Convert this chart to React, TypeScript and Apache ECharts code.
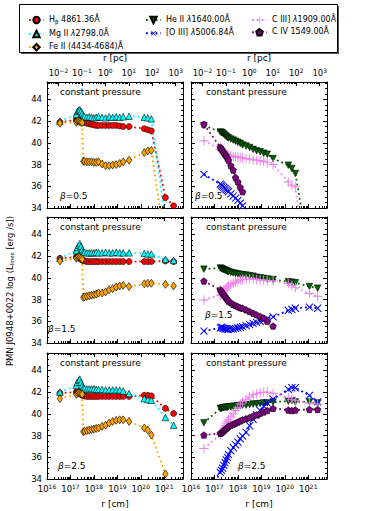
import React, { useEffect, useRef } from "react";
import * as echarts from "echarts";

// ---------------- data ----------------
// log10 of the radius (cm) of every model point (shared by all panels)
const LOG_R_CM = [16.55, 17.25, 17.3, 17.35, 17.4, 17.45, 17.5, 17.55, 17.6, 17.7, 17.8, 17.9, 18.0, 18.1, 18.2, 18.35, 18.5, 18.65, 18.8, 18.95, 19.1, 19.25, 19.5, 20.15, 20.3, 20.45, 21.05, 21.4];

const BETA_LABELS = ["0.5", "1.5", "2.5"];
const PANEL_TITLE = "constant pressure";
const X_TICKS_CM = [16, 17, 18, 19, 20, 21];
const X_TICKS_PC = [-2, -1, 0, 1, 2, 3];
const Y_TICKS = [34, 36, 38, 40, 42, 44];
const LOG_PC_IN_CM = 18.4894;
const X_MIN = 16;
const X_MAX = 21.8;
const Y_MIN = 34;
const Y_MAX = 45.6;

// beta = 0.5
const HB_05 = [41.9, 42.1, 42.2, 42.2, 42.1, 42.0, 42.0, 41.9, 41.9, 41.8, 41.75, 41.7, 41.65, 41.6, 41.6, 41.6, 41.6, 41.6, 41.6, 41.6, 41.55, 41.5, 41.5, 41.3, 41.2, 41.1, 34.95, 34.2];
const MG_05 = [42.0, 42.6, 42.9, 43.0, 43.05, 42.9, 42.7, 42.5, 42.4, 42.35, 42.4, 42.35, 42.3, 42.35, 42.4, 42.35, 42.3, 42.4, 42.35, 42.4, 42.35, 42.4, 42.45, 42.35, 42.3, 42.2, 32.9, 31.5];
const FE_05 = [41.8, 41.9, 42.0, 42.0, 41.95, 41.9, 41.85, 38.3, 38.3, 38.25, 38.25, 38.25, 38.2, 38.2, 38.25, 38.05, 37.9, 37.9, 37.95, 38.0, 38.1, 38.25, 38.4, 39.1, 39.25, 39.3, 30.5, null];
const HE_05 = [41.6, 41.0, 40.95, 40.9, 40.8, 40.7, 40.6, 40.5, 40.45, 40.35, 40.25, 40.15, 40.05, 39.95, 39.8, 39.7, 39.57, 39.4, 39.26, 39.17, 39.05, 38.95, 38.56, 37.94, 37.64, 37.18, 29.6, null];
const O3_05 = [37.1, 36.2, 36.1, 36.0, 35.9, 35.8, 35.7, 35.6, 35.5, 35.3, 35.1, 34.9, 34.7, 34.45, 34.2, 33.8, null, null, null, null, null, null, null, null, null, null, null, null];
const C3_05 = [40.2, 39.4, 39.3, 39.2, 39.1, 39.0, 38.95, 38.9, 38.85, 38.8, 38.75, 38.7, 38.7, 38.65, 38.6, 38.55, 38.5, 38.45, 38.4, 38.35, 38.3, 38.2, 38.0, 36.4, 36.1, 35.95, 26.0, null];
const C4_05 = [41.7, 39.6, 39.45, 39.3, 39.1, 38.95, 38.8, 38.6, 38.4, 37.9, 37.5, 36.8, 36.4, 35.9, 35.5, null, null, null, null, null, null, null, null, null, null, null, null, null];

// beta = 1.5
const HB_15 = [41.8, 41.9, 42.0, 41.9, 41.8, 41.7, 41.65, 41.6, 41.55, 41.5, 41.5, 41.5, 41.5, 41.5, 41.5, 41.5, 41.5, 41.5, 41.5, 41.5, 41.5, 41.5, 41.5, 41.5, 41.5, 41.5, 41.55, 41.5];
const MG_15 = [41.8, 42.5, 42.8, 43.0, 43.15, 42.9, 42.6, 42.4, 42.35, 42.3, 42.3, 42.3, 42.3, 42.35, 42.3, 42.3, 42.35, 42.3, 42.3, 42.35, 42.3, 42.3, 42.3, 42.25, 42.2, 42.2, 41.7, 41.6];
const FE_15 = [41.55, 41.8, 41.9, 41.95, 41.9, 41.8, 41.7, 38.2, 38.25, 38.3, 38.35, 38.4, 38.45, 38.5, 38.6, 38.6, 38.7, 38.9, 39.0, 39.15, 39.25, 39.3, 39.2, 39.45, 39.5, 39.5, 39.4, 39.25];
const HE_15 = [40.8, 40.9, 40.85, 40.8, 40.75, 40.7, 40.65, 40.6, 40.55, 40.5, 40.45, 40.4, 40.35, 40.3, 40.3, 40.25, 40.2, 40.15, 40.05, 40.0, 39.95, 39.9, 39.85, 39.65, 39.6, 39.55, 39.2, 39.05];
const O3_15 = [35.1, 35.4, 35.45, 35.4, 35.35, 35.3, 35.3, 35.25, 35.25, 35.3, 35.3, 35.35, 35.4, 35.45, 35.5, 35.6, 35.7, 35.8, 35.9, 36.0, 36.1, 36.25, 36.4, 37.0, 37.1, 37.2, 37.3, 37.2];
const C3_15 = [37.95, 38.4, 38.5, 38.65, 38.8, 38.95, 39.05, 39.15, 39.25, 39.4, 39.5, 39.6, 39.7, 39.8, 39.85, 39.9, 39.9, 39.9, 39.85, 39.8, 39.8, 39.75, 39.7, 39.5, 39.3, 39.1, 38.55, 38.3];
const C4_15 = [39.7, 38.9, 38.75, 38.6, 38.45, 38.3, 38.15, 38.0, 37.85, 37.7, 37.55, 37.45, 37.35, 37.25, 37.2, 37.05, 36.9, 36.75, 36.6, 36.45, 36.3, 36.0, 35.56, null, null, null, null, null];

// beta = 2.5
const HB_25 = [41.9, 42.0, 42.1, 42.0, 41.9, 41.8, 41.75, 41.7, 41.65, 41.6, 41.6, 41.6, 41.6, 41.6, 41.6, 41.6, 41.6, 41.6, 41.6, 41.6, 41.6, 41.6, 41.6, 41.7, 41.7, 41.65, 40.5, 40.03];
const MG_25 = [42.0, 42.6, 42.9, 43.1, 43.2, 42.9, 42.6, 42.4, 42.3, 42.3, 42.3, 42.3, 42.3, 42.25, 42.25, 42.25, 42.2, 42.2, 42.2, 42.2, 42.2, 42.1, 41.86, 41.4, 41.3, 41.25, 39.66, 38.95];
const FE_25 = [41.4, 41.8, 41.9, 41.95, 41.9, 41.85, 41.8, 38.35, 38.4, 38.45, 38.5, 38.55, 38.6, 38.65, 38.7, 38.85, 38.95, 39.15, 39.3, 39.4, 39.45, 39.45, 39.3, 38.7, 38.5, 38.05, 34.46, null];
const HE_25 = [39.17, 40.5, 40.5, 40.55, 40.55, 40.6, 40.6, 40.6, 40.65, 40.65, 40.7, 40.7, 40.75, 40.75, 40.8, 40.8, 40.85, 40.9, 40.9, 40.95, 41.0, 41.0, 41.1, 41.15, 41.2, 41.1, 41.1, 41.0];
const O3_25 = [31.8, 34.6, 34.8, 35.0, 35.25, 35.5, 35.75, 36.0, 36.25, 36.6, 36.9, 37.15, 37.4, 37.7, 37.95, 38.3, 38.9, 39.5, 39.9, 40.3, 40.7, 41.0, 41.35, 42.25, 42.4, 42.4, 41.7, 41.1];
const C3_25 = [36.8, 38.1, 38.3, 38.5, 38.7, 38.9, 39.1, 39.3, 39.45, 39.7, 40.0, 40.3, 40.6, 40.9, 41.1, 41.35, 41.55, 41.75, 41.85, 41.95, 42.0, 42.0, 41.9, 41.5, 41.35, 41.2, 41.0, 40.9];
const C4_25 = [38.04, 38.2, 38.25, 38.35, 38.45, 38.55, 38.65, 38.75, 38.85, 38.95, 39.05, 39.15, 39.25, 39.35, 39.45, 39.55, 39.66, 39.8, 39.9, 40.05, 40.17, 40.3, 40.5, 40.35, 40.3, 40.35, 40.4, 40.4];

// panels: rows = beta, column 0 = low-ionisation lines, column 1 = high-ionisation lines
const PANELS: { key: string; ys: (number | null)[] }[][][] = [
  [
    [{ key: "Hb", ys: HB_05 }, { key: "Mg", ys: MG_05 }, { key: "Fe", ys: FE_05 }],
    [{ key: "He", ys: HE_05 }, { key: "O3", ys: O3_05 }, { key: "C3", ys: C3_05 }, { key: "C4", ys: C4_05 }],
  ],
  [
    [{ key: "Hb", ys: HB_15 }, { key: "Mg", ys: MG_15 }, { key: "Fe", ys: FE_15 }],
    [{ key: "He", ys: HE_15 }, { key: "O3", ys: O3_15 }, { key: "C3", ys: C3_15 }, { key: "C4", ys: C4_15 }],
  ],
  [
    [{ key: "Hb", ys: HB_25 }, { key: "Mg", ys: MG_25 }, { key: "Fe", ys: FE_25 }],
    [{ key: "He", ys: HE_25 }, { key: "O3", ys: O3_25 }, { key: "C3", ys: C3_25 }, { key: "C4", ys: C4_25 }],
  ],
];

// ---------------- styles ----------------
const FONT = "DejaVu Sans";
const PLUS = "path://M-0.5,-5L0.5,-5L0.5,-0.5L5,-0.5L5,0.5L0.5,0.5L0.5,5L-0.5,5L-0.5,0.5L-5,0.5L-5,-0.5L-0.5,-0.5Z";
const PENT = "path://M0,-1L0.951,-0.309L0.588,0.809L-0.588,0.809L-0.951,-0.309Z";

const LINE_STYLES: Record<string, any> = {
  Hb: { label: "{n|H}{sub|β}{n| 4861.36Å}", color: "#ff0000", symbol: "circle", size: 6, rotate: 0, edge: true },
  Mg: { label: "{n|Mg II }{it|λ}{n|2798.0Å}", color: "#00ffff", symbol: "triangle", size: 6.5, rotate: 0, edge: true },
  Fe: { label: "{n|Fe II (4434-4684)Å}", color: "#ffa500", symbol: "diamond", size: [5.5, 8], rotate: 0, edge: true },
  He: { label: "{n|He II }{it|λ}{n|1640.00Å}", color: "#006400", symbol: "triangle", size: 6.5, rotate: 180, edge: true },
  O3: { label: "{n|[O III] }{it|λ}{n|5006.84Å}", color: "#0000ff", symbol: PLUS, size: 10, rotate: 45, edge: false },
  C3: { label: "{n|C III] }{it|λ}{n|1909.00Å}", color: "#ee82ee", symbol: PLUS, size: 9.5, rotate: 0, edge: false },
  C4: { label: "{n|C IV 1549.00Å}", color: "#800080", symbol: PENT, size: 6.5, rotate: 0, edge: true },
};

const GRID_LEFTS = [47, 191];
const GRID_TOPS = [82, 217, 353];
const GRID_W = 136;
const GRID_H = 126;
// beta label offsets (from grid left / grid bottom)
const BETA_OFFSETS = [
  [[13, -12], [4, -12]],
  [[1, -14], [14, -28]],
  [[11, -13], [47, -13]],
];

function logMinor(from: number, to: number, shift: number): number[] {
  const out: number[] = [];
  for (let n = Math.floor(from - shift) - 1; n <= Math.ceil(to - shift); n++) {
    for (let k = 2; k <= 9; k++) {
      const v = n + Math.log10(k) + shift;
      if (v > from + 1e-6 && v < to - 1e-6) out.push(v);
    }
  }
  return out;
}
const X_MINOR_CM = logMinor(X_MIN, X_MAX, 0);
const PC_MAJOR_POS = X_TICKS_PC.map((e) => e + LOG_PC_IN_CM);
const PC_MINOR_POS = logMinor(X_MIN, X_MAX, LOG_PC_IN_CM);
const Y_MINOR: number[] = [];
for (let i = 1; Y_MIN + i * 0.5 < Y_MAX; i++) {
  const v = Y_MIN + i * 0.5;
  if (!Y_TICKS.includes(v)) Y_MINOR.push(v);
}

const BLACK = "#000";
const lineSt = { color: BLACK, width: 1 };
const expRich = {
  b: { fontSize: 8.5, fontFamily: FONT, color: BLACK, lineHeight: 10, verticalAlign: "bottom" },
  s: { fontSize: 6, fontFamily: FONT, color: BLACK, lineHeight: 7, verticalAlign: "top", padding: [0, 0, 6, 0] },
};
const expText = (e: number) => `{b|10}{s|${e < 0 ? "\u2212" + Math.abs(e) : e}}`;
const nameStyle = { fontSize: 9, fontFamily: FONT, color: BLACK };

function xAxesFor(g: number, row: number) {
  const common = { gridIndex: g, type: "value", min: X_MIN, max: X_MAX, splitLine: { show: false } };
  return [
    {
      ...common,
      position: "bottom",
      axisLine: { show: true, onZero: false, lineStyle: lineSt },
      axisTick: { show: true, inside: true, length: 4, customValues: X_TICKS_CM, lineStyle: lineSt },
      axisLabel: { show: row === 2, customValues: X_TICKS_CM, margin: 4, formatter: (v: number) => expText(Math.round(v)), rich: expRich },
      name: row === 2 ? "r [cm]" : "",
      nameLocation: "middle",
      nameGap: 20,
      nameTextStyle: nameStyle,
    },
    {
      ...common,
      position: "bottom",
      axisLine: { show: false, onZero: false },
      axisTick: { show: true, inside: true, length: 2, customValues: X_MINOR_CM, lineStyle: lineSt },
      axisLabel: { show: false },
    },
    {
      ...common,
      position: "top",
      axisLine: { show: true, onZero: false, lineStyle: lineSt },
      axisTick: { show: true, inside: true, length: 4, customValues: row === 0 ? PC_MAJOR_POS : X_TICKS_CM, lineStyle: lineSt },
      axisLabel: {
        show: row === 0,
        customValues: PC_MAJOR_POS,
        margin: 5,
        formatter: (v: number) => expText(Math.round(v - LOG_PC_IN_CM)),
        rich: expRich,
      },
      name: row === 0 ? "r [pc]" : "",
      nameLocation: "middle",
      nameGap: 20,
      nameTextStyle: nameStyle,
    },
    {
      ...common,
      position: "top",
      axisLine: { show: false, onZero: false },
      axisTick: { show: true, inside: true, length: 2, customValues: row === 0 ? PC_MINOR_POS : X_MINOR_CM, lineStyle: lineSt },
      axisLabel: { show: false },
    },
  ];
}

function yAxesFor(g: number, col: number) {
  const common = { gridIndex: g, type: "value", min: Y_MIN, max: Y_MAX, splitLine: { show: false } };
  const major = (pos: string, labels: boolean) => ({
    ...common,
    position: pos,
    axisLine: { show: true, onZero: false, lineStyle: lineSt },
    axisTick: { show: true, inside: true, length: 4, customValues: Y_TICKS, lineStyle: lineSt },
    axisLabel: { show: labels, customValues: Y_TICKS, margin: 5, fontSize: 8.5, fontFamily: FONT, color: BLACK },
  });
  const minor = (pos: string) => ({
    ...common,
    position: pos,
    axisLine: { show: false, onZero: false },
    axisTick: { show: true, inside: true, length: 2, customValues: Y_MINOR, lineStyle: lineSt },
    axisLabel: { show: false },
  });
  return [major("left", col === 0), minor("left"), major("right", false), minor("right")];
}

function buildOption() {
  const grid: any[] = [];
  const xAxis: any[] = [];
  const yAxis: any[] = [];
  const series: any[] = [];
  const graphic: any[] = [
    { type: "rect", z: 0, shape: { x: 21, y: 6, width: 318, height: 48 }, style: { fill: "#555" } },
    { type: "rect", z: 1, shape: { x: 19.5, y: 4.5, width: 318, height: 48 }, style: { fill: "#fff", stroke: BLACK, lineWidth: 1 } },
    {
      type: "text",
      x: 10,
      y: 291,
      rotation: Math.PI / 2,
      style: {
        text: "{n|PMN J0948+0022 log (L}{sub|lines}{n| [erg /s])}",
        align: "center",
        verticalAlign: "middle",
        fill: BLACK,
        rich: {
          n: { fontSize: 8.5, fontFamily: FONT, lineHeight: 10, verticalAlign: "top", fill: BLACK },
          sub: { fontSize: 5.5, fontFamily: FONT, lineHeight: 7, verticalAlign: "bottom", padding: [5, 0, 0, 0], fill: BLACK },
        },
      },
    },
  ];

  for (let row = 0; row < 3; row++) {
    for (let col = 0; col < 2; col++) {
      const g = row * 2 + col;
      grid.push({ left: GRID_LEFTS[col], top: GRID_TOPS[row], width: GRID_W, height: GRID_H, containLabel: false, outerBoundsMode: "none" });
      xAxis.push(...xAxesFor(g, row));
      yAxis.push(...yAxesFor(g, col));
      for (const line of PANELS[row][col]) {
        const st = LINE_STYLES[line.key];
        series.push({
          type: "line",
          name: line.key,
          xAxisIndex: 4 * g,
          yAxisIndex: 4 * g,
          data: LOG_R_CM.map((x, i) => [x, line.ys[i]]).filter((p) => p[1] !== null),
          symbol: st.symbol,
          symbolSize: st.size,
          symbolRotate: st.rotate,
          showSymbol: true,
          clip: true,
          silent: true,
          itemStyle: { color: st.color, borderColor: st.edge ? BLACK : st.color, borderWidth: st.edge ? 0.6 : 0 },
          lineStyle: { color: st.color, width: 1.8, type: [1.8, 3], cap: "butt" },
          emphasis: { disabled: true },
        });
      }
      graphic.push({
        type: "text",
        x: GRID_LEFTS[col] + (col === 0 ? 13 : 15),
        y: GRID_TOPS[row] + 10,
        style: { text: PANEL_TITLE, fontSize: 9, fontFamily: FONT, fill: BLACK, verticalAlign: "middle" },
      });
      const off = BETA_OFFSETS[row][col];
      graphic.push({
        type: "text",
        x: GRID_LEFTS[col] + off[0],
        y: GRID_TOPS[row] + GRID_H + off[1],
        style: {
          text: `{it|β}{n|=${BETA_LABELS[row]}}`,
          verticalAlign: "middle",
          fill: BLACK,
          rich: {
            it: { fontSize: 9, fontFamily: FONT, fontStyle: "italic", fill: BLACK },
            n: { fontSize: 9, fontFamily: FONT, fill: BLACK },
          },
        },
      });
    }
  }

  const legendText = {
    fontSize: 8,
    fontFamily: FONT,
    color: BLACK,
    rich: {
      n: { fontSize: 8, fontFamily: FONT, color: BLACK, lineHeight: 10, verticalAlign: "top" },
      it: { fontSize: 8, fontFamily: FONT, fontStyle: "italic", color: BLACK, lineHeight: 10, verticalAlign: "top" },
      sub: { fontSize: 5.5, fontFamily: FONT, color: BLACK, lineHeight: 7, verticalAlign: "bottom", padding: [3, 0, 0, 0] },
    },
  };
  const legendBase = {
    orient: "vertical",
    top: 10,
    itemGap: 4,
    itemWidth: 15,
    itemHeight: 8,
    selectedMode: false,
    formatter: (name: string) => LINE_STYLES[name].label,
    textStyle: legendText,
  };
  const legend = [
    { ...legendBase, left: 23, data: ["Hb", "Mg", "Fe"] },
    { ...legendBase, left: 140, data: ["He", "O3"] },
    { ...legendBase, left: 246, data: ["C3", "C4"] },
  ];

  return {
    animation: false,
    backgroundColor: "#fff",
    grid,
    xAxis,
    yAxis,
    series,
    legend,
    graphic,
  };
}

export default function App() {
  const ref = useRef<HTMLDivElement>(null);
  useEffect(() => {
    if (!ref.current) return;
    const chart = echarts.init(ref.current, undefined, { renderer: "svg" });
    chart.setOption(buildOption() as any);
    return () => chart.dispose();
  }, []);
  return <div ref={ref} style={{ position: "fixed", left: 0, top: 0, width: 365, height: 511, background: "#fff" }} />;
}
